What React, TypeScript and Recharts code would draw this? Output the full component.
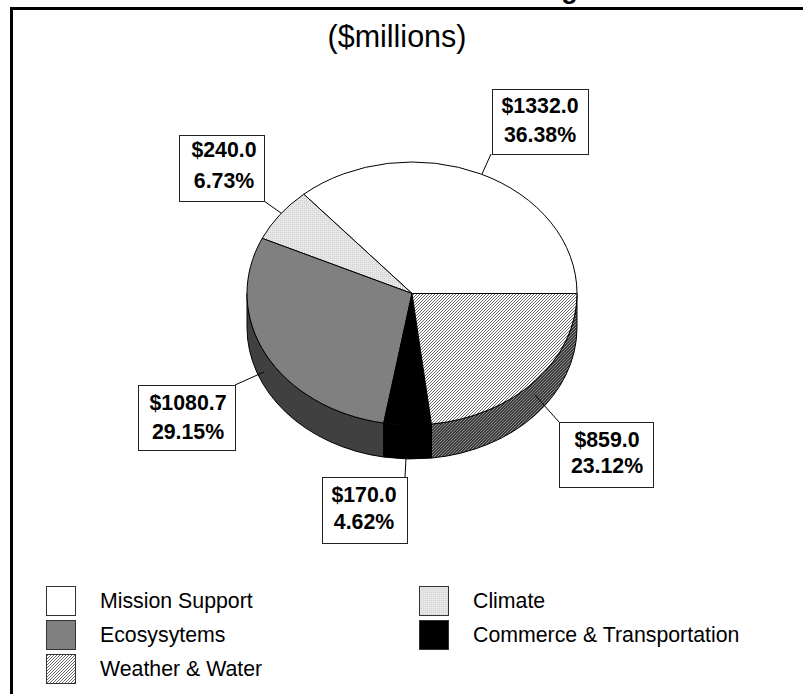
import React from "react";
import { PieChart, Pie, Cell, Legend } from "recharts";

const categories = ["Mission Support", "Climate", "Ecosysytems", "Commerce & Transportation", "Weather & Water"];
const amounts = [1332.0, 240.0, 1080.7, 170.0, 859.0];
const shares = [36.38, 6.73, 29.15, 4.62, 23.12];
const topFills = ["#ffffff", "url(#dither)", "#808080", "#000000", "url(#hatchLight)"];
const sideFills = ["#ffffff", "#bdbdbd", "#404040", "#000000", "url(#hatchDark)"];
const rows = categories.map((name, i) => ({ name, share: shares[i], amount: amounts[i] }));

const W = 803, H = 694, CX = 412, CY = 293.5, RX = 165, SQUASH = 0.797, DEPTH = 34;
const rad = (d: number) => (d * Math.PI) / 180;
const pt = (cx: number, cy: number, r: number, d: number) =>
  [cx + r * Math.cos(rad(d)), cy - r * SQUASH * Math.sin(rad(d))];

function TopSlice(p: any) {
  const [x0, y0] = pt(p.cx, p.cy, p.outerRadius, p.startAngle);
  const [x1, y1] = pt(p.cx, p.cy, p.outerRadius, p.endAngle);
  const ry = p.outerRadius * SQUASH;
  const large = Math.abs(p.endAngle - p.startAngle) > 180 ? 1 : 0;
  return (
    <path
      d={`M${p.cx},${p.cy}L${x0},${y0}A${p.outerRadius},${ry} 0 ${large} 0 ${x1},${y1}Z`}
      fill={p.fill}
      stroke="#000"
      strokeWidth={1}
    />
  );
}

function SideSlice(p: any) {
  const a = Math.max(p.startAngle, 180);
  const b = Math.min(p.endAngle, 360);
  if (a >= b) return <g />;
  const [x0, y0] = pt(p.cx, p.cy, p.outerRadius, a);
  const [x1, y1] = pt(p.cx, p.cy, p.outerRadius, b);
  const r = p.outerRadius, ry = r * SQUASH;
  return (
    <path
      d={`M${x0},${y0}A${r},${ry} 0 0 0 ${x1},${y1}L${x1},${y1 + DEPTH}A${r},${ry} 0 0 1 ${x0},${y0 + DEPTH}Z`}
      fill={p.fill}
      stroke="#000"
      strokeWidth={1}
    />
  );
}

const callouts = [
  { x: 492, y: 89, w: 96, h: 65, tx: 540, b1: 113, b2: 142, l: [491, 154, 482, 174] },
  { x: 179, y: 135, w: 85, h: 66, tx: 224, b1: 157, b2: 188, l: [264, 201, 281, 213] },
  { x: 138, y: 385, w: 97, h: 65, tx: 188, b1: 410, b2: 439, l: [235, 385, 264, 372] },
  { x: 322, y: 477, w: 85, h: 66, tx: 364, b1: 502, b2: 529, l: [405, 477, 406, 458] },
  { x: 559, y: 422, w: 94, h: 65, tx: 607, b1: 447, b2: 473, l: [559, 422, 535, 395] },
];

function Callout(p: any) {
  const c = callouts[p.index];
  const r = rows[p.index];
  return (
    <g>
      <line x1={c.l[0]} y1={c.l[1]} x2={c.l[2]} y2={c.l[3]} stroke="#000" strokeWidth={1} />
      <rect x={c.x + 0.5} y={c.y + 0.5} width={c.w} height={c.h} fill="#fff" stroke="#222" strokeWidth={1} />
      <text x={c.tx} y={c.b1} textAnchor="middle" fontFamily="Liberation Sans" fontWeight="bold" fontSize={21.3} fill="#000">
        {`$${r.amount.toFixed(1)}`}
      </text>
      <text x={c.tx} y={c.b2} textAnchor="middle" fontFamily="Liberation Sans" fontWeight="bold" fontSize={21.3} fill="#000">
        {`${r.share.toFixed(2)}%`}
      </text>
    </g>
  );
}

function LegendBox({ payload }: any) {
  const items = (payload || []).filter((e: any) => e.type !== "none");
  return (
    <div style={{ display: "grid", gridTemplateColumns: "373px 340px", gridAutoRows: "34px", fontFamily: "Liberation Sans", fontSize: 21.3, color: "#000" }}>
      {items.map((e: any, i: number) => (
        <div key={i} style={{ display: "flex", alignItems: "center", height: 34 }}>
          <svg width={30} height={30} style={{ flex: "none" }}>
            <rect x={0.5} y={0.5} width={29} height={29} fill={topFills[categories.indexOf(e.value)]} stroke="#333" />
          </svg>
          <span style={{ marginLeft: 24, whiteSpace: "nowrap" }}>{e.value}</span>
        </div>
      ))}
    </div>
  );
}

export default function App() {
  return (
    <div style={{ position: "absolute", left: 0, top: 0, width: W, height: H }}>
      <PieChart width={W} height={H} margin={{ top: 0, right: 0, bottom: 0, left: 0 }}>
        <defs>
          <pattern id="hatchLight" width={3} height={3} patternUnits="userSpaceOnUse">
            <rect width={3} height={3} fill="#fff" />
            <rect x={0} y={2} width={1} height={1} fill="#6a6a6a" />
            <rect x={1} y={1} width={1} height={1} fill="#6a6a6a" />
            <rect x={2} y={0} width={1} height={1} fill="#6a6a6a" />
          </pattern>
          <pattern id="hatchDark" width={3} height={3} patternUnits="userSpaceOnUse">
            <rect width={3} height={3} fill="#3c3c3c" />
            <rect x={0} y={2} width={1} height={1} fill="#8c8c8c" />
            <rect x={1} y={1} width={1} height={1} fill="#8c8c8c" />
            <rect x={2} y={0} width={1} height={1} fill="#8c8c8c" />
          </pattern>
          <pattern id="dither" width={2} height={2} patternUnits="userSpaceOnUse">
            <rect width={2} height={2} fill="#e6e6e6" />
            <rect x={0} y={0} width={1} height={1} fill="#d2d2d2" />
          </pattern>
        </defs>
        <rect x={11.5} y={8.5} width={W} height={H} fill="#fff" stroke="#000" strokeWidth={3} />
        <text x={569.5} y={-2} textAnchor="middle" fontFamily="Liberation Sans" fontWeight="bold" fontSize={27} fill="#000">g</text>
        <text x={397} y={47} textAnchor="middle" fontFamily="Liberation Sans" fontSize={30.5} fill="#000">($millions)</text>
        <Pie data={rows} dataKey="share" nameKey="name" cx={CX} cy={CY} outerRadius={RX} startAngle={0} endAngle={360} paddingAngle={0} legendType="none" isAnimationActive={false} shape={SideSlice}>
          {rows.map((_, i) => <Cell key={i} fill={sideFills[i]} />)}
        </Pie>
        <Pie data={rows} dataKey="share" nameKey="name" cx={CX} cy={CY} outerRadius={RX} startAngle={0} endAngle={360} paddingAngle={0} isAnimationActive={false} shape={TopSlice} label={Callout} labelLine={false}>
          {rows.map((_, i) => <Cell key={i} fill={topFills[i]} />)}
        </Pie>
        <Legend content={<LegendBox />} itemSorter={null} wrapperStyle={{ left: 46, top: 584, width: 720, height: 104 }} />
      </PieChart>
    </div>
  );
}
